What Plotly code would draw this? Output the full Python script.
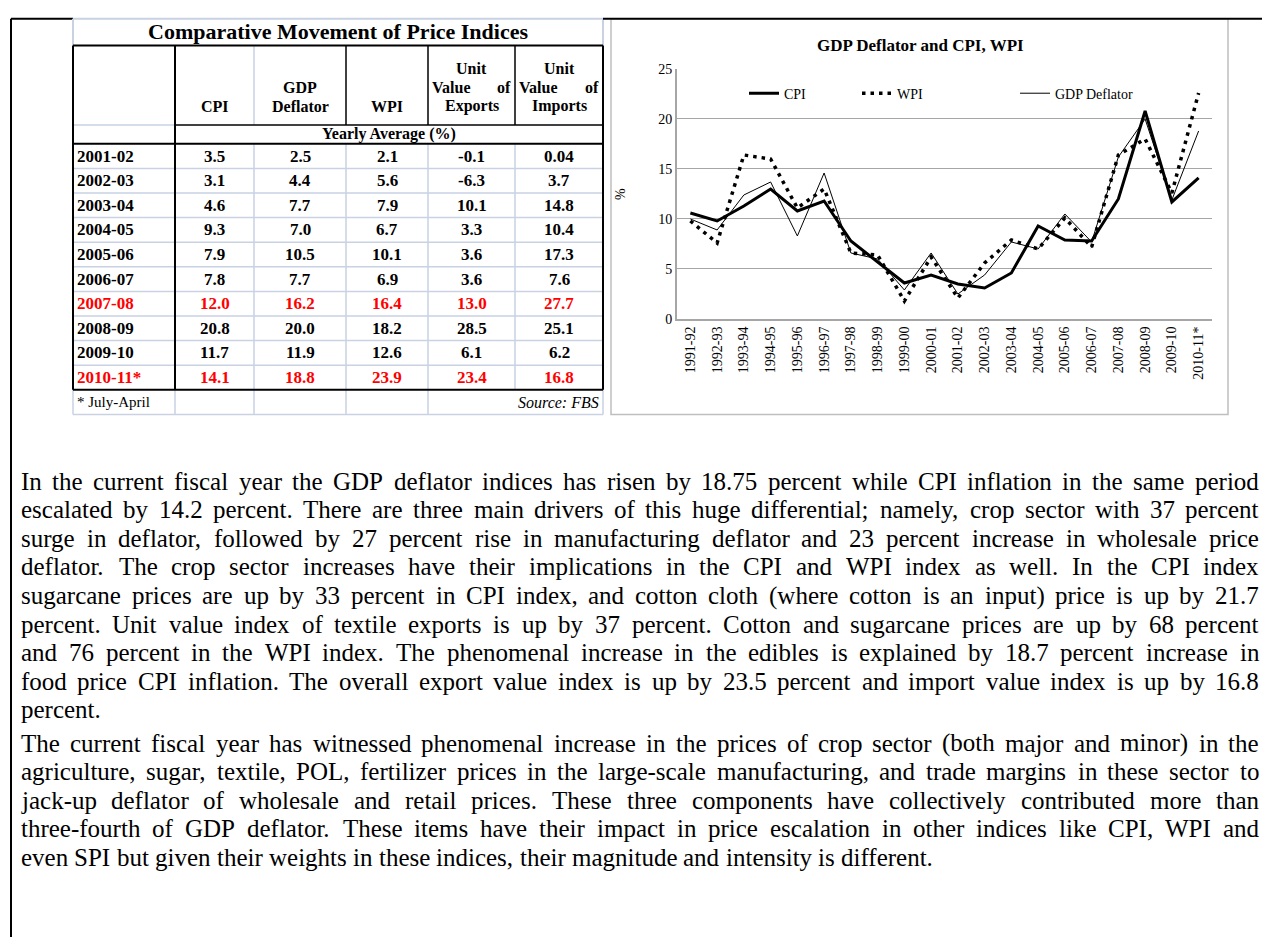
import plotly.graph_objects as go

W, H = 1273, 945

# ---------------- chart data ----------------
chart_years = ["1991-92", "1992-93", "1993-94", "1994-95", "1995-96", "1996-97", "1997-98",
               "1998-99", "1999-00", "2000-01", "2001-02", "2002-03", "2003-04", "2004-05",
               "2005-06", "2006-07", "2007-08", "2008-09", "2009-10", "2010-11*"]
cpi = [10.6, 9.8, 11.3, 13.0, 10.8, 11.8, 7.8, 5.7, 3.6, 4.4, 3.5, 3.1, 4.6, 9.3, 7.9, 7.8, 12.0, 20.8, 11.7, 14.1]
wpi = [9.8, 7.6, 16.4, 16.0, 11.1, 13.0, 6.6, 6.4, 1.8, 6.2, 2.1, 5.6, 7.9, 7.0, 10.1, 7.2, 16.4, 18.0, 12.6, 22.6]
gdp = [10.0, 8.9, 12.4, 13.7, 8.3, 14.6, 6.6, 6.0, 2.9, 6.6, 2.5, 4.4, 7.7, 7.0, 10.5, 7.7, 16.2, 20.0, 11.9, 18.8]

# ---------------- table data ----------------
tbl_years = ["2001-02", "2002-03", "2003-04", "2004-05", "2005-06", "2006-07", "2007-08", "2008-09", "2009-10", "2010-11*"]
tbl_cpi = ["3.5", "3.1", "4.6", "9.3", "7.9", "7.8", "12.0", "20.8", "11.7", "14.1"]
tbl_gdp = ["2.5", "4.4", "7.7", "7.0", "10.5", "7.7", "16.2", "20.0", "11.9", "18.8"]
tbl_wpi = ["2.1", "5.6", "7.9", "6.7", "10.1", "6.9", "16.4", "18.2", "12.6", "23.9"]
tbl_exp = ["-0.1", "-6.3", "10.1", "3.3", "3.6", "3.6", "13.0", "28.5", "6.1", "23.4"]
tbl_imp = ["0.04", "3.7", "14.8", "10.4", "17.3", "7.6", "27.7", "25.1", "6.2", "16.8"]
highlight_rows = ["2007-08", "2010-11*"]

para1 = [
    "In the current fiscal year the GDP deflator indices has risen by 18.75 percent while CPI inflation in the same period",
    "escalated by 14.2 percent. There are three main drivers of this huge differential; namely, crop sector with 37 percent",
    "surge in deflator, followed by 27 percent rise in manufacturing deflator and 23 percent increase in wholesale price",
    "deflator. The crop sector increases have their implications in the CPI and WPI index as well. In the CPI index",
    "sugarcane prices are up by 33 percent in CPI index, and cotton cloth (where cotton is an input) price is up by 21.7",
    "percent. Unit value index of textile exports is up by 37 percent. Cotton and sugarcane prices are up by 68 percent",
    "and 76 percent in the WPI index. The phenomenal increase in the edibles is explained by 18.7 percent increase in",
    "food price CPI inflation. The overall export value index is up by 23.5 percent and import value index is up by 16.8",
    "percent.",
]
para2 = [
    "The current fiscal year has witnessed phenomenal increase in the prices of crop sector (both major and minor) in the",
    "agriculture, sugar, textile, POL, fertilizer prices in the large-scale manufacturing, and trade margins in these sector to",
    "jack-up deflator of wholesale and retail prices. These three components have collectively contributed more than",
    "three-fourth of GDP deflator. These items have their impact in price escalation in other indices like CPI, WPI and",
    "even SPI but given their weights in these indices, their magnitude and intensity is different.",
]

SERIF = "Liberation Serif"
LIGHT = "#c9d2e3"

# Times-compatible advance widths (1/1000 em), used only to space words for justified lines
_TW = {' ': 250, '!': 333, '(': 333, ')': 333, '*': 500, ',': 250, '-': 333, '.': 250, ';': 278, ':': 278,
       '%': 833, '/': 278}
for _c in "0123456789":
    _TW[_c] = 500
_TW.update(dict(zip("ABCDEFGHIJKLMNOPQRSTUVWXYZ",
                    [722, 667, 667, 722, 611, 556, 722, 722, 333, 389, 722, 611, 889, 722, 722, 556, 722, 667,
                     556, 611, 722, 722, 944, 722, 722, 611])))
_TW.update(dict(zip("abcdefghijklmnopqrstuvwxyz",
                    [444, 500, 444, 500, 444, 333, 500, 500, 278, 278, 500, 278, 778, 500, 500, 500, 500, 333,
                     389, 278, 500, 500, 722, 500, 500, 444])))


def word_w(w, size):
    return sum(_TW.get(c, 500) for c in w) * size / 1000.0


def px(x):
    return x / W


def py(y):
    return 1 - y / H


fig = go.Figure()
fig.add_trace(go.Scatter(x=chart_years, y=cpi, name="CPI", mode="lines",
                         line=dict(color="black", width=3), legend="legend"))
fig.add_trace(go.Scatter(x=chart_years, y=wpi, name="WPI", mode="lines",
                         line=dict(color="black", width=3.5, dash="3.5px,5px"), legend="legend2"))
fig.add_trace(go.Scatter(x=chart_years, y=gdp, name="GDP Deflator", mode="lines",
                         line=dict(color="black", width=1), legend="legend3"))

shapes = []
annos = []


def line(x0, y0, x1, y1, color="black", width=1):
    shapes.append(dict(type="line", xref="paper", yref="paper", x0=px(x0), y0=py(y0), x1=px(x1), y1=py(y1),
                       line=dict(color=color, width=width)))


def text(x, y, s, size=14, anchor="center", bold=False, italic=False, color="black", angle=0):
    if bold:
        s = "<b>" + s + "</b>"
    if italic:
        s = "<i>" + s + "</i>"
    annos.append(dict(xref="paper", yref="paper", x=px(x), y=py(y), text=s, showarrow=False,
                      xanchor=anchor, yanchor="middle", textangle=angle, borderpad=0,
                      font=dict(family=SERIF, size=size, color=color)))


# ---------------- page frame ----------------
line(11, 12, 73, 12, "black", 2)
line(11, 12, 11, 945, "black", 2)

# ---------------- table ----------------
cols = [73, 175, 254, 346, 428, 515, 603]
t_top, h_top, h_bot, ya_bot = 12, 39, 120, 139
pitch = 25.0
rows_top = ya_bot
rows_bot = rows_top + pitch * len(tbl_years)
foot_bot = rows_bot + 25

# light grid
line(73, t_top, 603, t_top, LIGHT, 2)
line(73, t_top, 73, h_top, LIGHT, 2)
line(603, t_top, 603, h_top, LIGHT, 2)
line(73, h_bot, 175, h_bot, LIGHT, 1.5)
for i in range(1, len(tbl_years)):
    yy = rows_top + pitch * i
    line(73, yy, 603, yy, LIGHT, 1.5)
for c in cols[2:6]:
    line(c, rows_top, c, rows_bot, LIGHT, 1.5)
line(cols[2], h_top, cols[2], h_bot, LIGHT, 1.5)
for c in [73, 175, 254, 346, 428, 603]:
    line(c, rows_bot, c, foot_bot, LIGHT, 1.5)
line(73, foot_bot, 603, foot_bot, LIGHT, 1.5)
# black grid
line(73, h_top, 603, h_top, "black", 2)
line(175, h_bot, 603, h_bot, "black", 1.5)
line(73, ya_bot, 603, ya_bot, "black", 2)
line(73, rows_bot, 603, rows_bot, "black", 2)
line(73, h_top, 73, rows_bot, "black", 2)
line(603, h_top, 603, rows_bot, "black", 2)
line(175, h_top, 175, rows_bot, "black", 2)
for c in [346, 428, 515]:
    line(c, h_top, c, h_bot, "black", 1.5)

text(338, 25, "Comparative Movement of Price Indices", 22, bold=True)
text((175 + 254) / 2, 101, "CPI", 16, bold=True)
text((254 + 346) / 2, 82, "GDP", 16, bold=True)
text((254 + 346) / 2, 101, "Deflator", 16, bold=True)
text((346 + 428) / 2, 101, "WPI", 16, bold=True)
for c0, c1, word in [(428, 515, "Exports"), (515, 603, "Imports")]:
    text((c0 + c1) / 2, 62, "Unit", 16, bold=True)
    text(c0 + 3, 82, "Value", 16, anchor="left", bold=True)
    text(c1 - 3, 82, "of", 16, anchor="right", bold=True)
    text((c0 + c1) / 2, 101, word, 16, bold=True)
text((175 + 603) / 2, 129.5, "Yearly Average (%)", 16, bold=True)

for i, yr in enumerate(tbl_years):
    yy = rows_top + pitch * (i + 0.5)
    colr = "#ff0000" if yr in highlight_rows else "black"
    text(76, yy, yr, 17, anchor="left", bold=True, color=colr)
    for j, vals in enumerate([tbl_cpi, tbl_gdp, tbl_wpi, tbl_exp, tbl_imp]):
        text((cols[j + 1] + cols[j + 2]) / 2, yy, vals[i], 17, bold=True, color=colr)
text(76, (rows_bot + foot_bot) / 2, "* July-April", 15, anchor="left")
text(600, (rows_bot + foot_bot) / 2, "Source: FBS", 16, anchor="right", italic=True)

# ---------------- chart frame ----------------
shapes.append(dict(type="rect", xref="paper", yref="paper", x0=px(611), y0=py(414), x1=px(1228), y1=py(12),
                   line=dict(color="#bfbfbf", width=1.5), fillcolor="rgba(0,0,0,0)", layer="below"))
line(603, 12, 1262, 12, "black", 2)
text(920, 39, "GDP Deflator and CPI, WPI", 17, bold=True)
text(621, 190, "%", 14, angle=-90)

# ---------------- body text (justified) ----------------
BODY = 25
LEFT, RIGHT = 20, 1258


def body_lines(lines, y0, pitch_y):
    for i, s in enumerate(lines):
        words = s.split(" ")
        widths = [word_w(w, BODY) for w in words]
        last = (i == len(lines) - 1)
        if last or len(words) == 1:
            gap = _TW[' '] * BODY / 1000.0
        else:
            gap = (RIGHT - LEFT - sum(widths)) / (len(words) - 1)
        x = LEFT
        yy = y0 + pitch_y * i
        for w, ww in zip(words, widths):
            text(x, yy, w, BODY, anchor="left")
            x += ww + gap


LINE_PITCH = 29.0
P1_TOP = 482
body_lines(para1, P1_TOP, LINE_PITCH)
body_lines(para2, P1_TOP + LINE_PITCH * len(para1) + 5, LINE_PITCH)

leg_common = dict(orientation="h", xanchor="left", yanchor="middle", bgcolor="rgba(0,0,0,0)",
                  font=dict(family=SERIF, size=14, color="black"), borderwidth=0, visible=True)

fig.update_layout(
    width=W, height=H, margin=dict(l=0, r=0, t=0, b=0),
    paper_bgcolor="white", plot_bgcolor="white", showlegend=True,
    font=dict(family=SERIF, color="black"),
    xaxis=dict(domain=[px(677), px(1212)], type="category", range=[-0.5, 19.5], tickangle=-90,
               showgrid=False, showline=True, linecolor="#a6a6a6", linewidth=2, ticks="",
               tickfont=dict(family=SERIF, size=14), fixedrange=True),
    yaxis=dict(domain=[py(317), py(63)], range=[0, 25], dtick=5, showgrid=True, gridcolor="#a6a6a6",
               gridwidth=1, showline=True, linecolor="#a6a6a6", linewidth=2, ticks="", zeroline=False,
               tickfont=dict(family=SERIF, size=14), fixedrange=True),
    legend=dict(x=px(744), y=py(88), **leg_common),
    legend2=dict(x=px(857), y=py(88), **leg_common),
    legend3=dict(x=px(1015), y=py(88), **leg_common),
    shapes=shapes, annotations=annos,
)

fig.write_html("out.html", config={"displayModeBar": False},
               post_script="document.body.style.margin='0px';document.body.style.padding='0px';")
